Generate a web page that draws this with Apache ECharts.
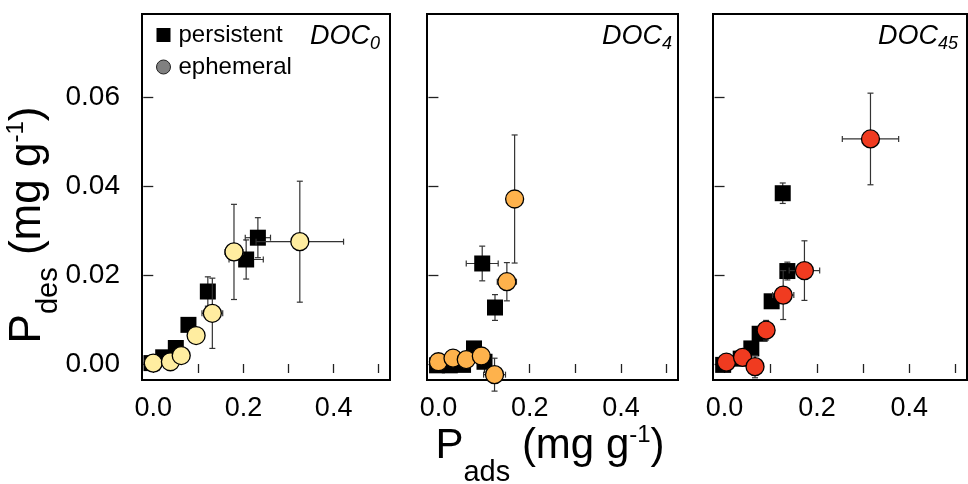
<!DOCTYPE html>
<html>
<head>
<meta charset="utf-8">
<script src="https://cdn.jsdelivr.net/npm/echarts@6/dist/echarts.min.js"></script>
<style>
  html, body { margin: 0; padding: 0; background: #fff; }
  #chart { width: 968px; height: 484px; }
</style>
</head>
<body>
<div id="chart"></div>
<script>
// values: P_ads (x) and P_des (y), mg g-1, with +/- error
// DOC0
const doc0PersX    = [-0.004, 0.022, 0.050, 0.078, 0.121, 0.206, 0.232];
const doc0PersY    = [0.0002, 0.0015, 0.0036, 0.0088, 0.0163, 0.0235, 0.0284];
const doc0PersXErr = [0, 0, 0, 0, 0, 0.038, 0.028];
const doc0PersYErr = [0, 0, 0, 0, 0.0033, 0.0044, 0.0045];
const doc0EphX     = [0.000, 0.038, 0.062, 0.095, 0.131, 0.179, 0.325];
const doc0EphY     = [0.0002, 0.0005, 0.0019, 0.0064, 0.0114, 0.0252, 0.0275];
const doc0EphXErr  = [0, 0, 0, 0, 0.023, 0.020, 0.097];
const doc0EphYErr  = [0, 0, 0, 0, 0.0079, 0.0107, 0.0136];
// DOC4
const doc4PersX    = [-0.003, 0.025, 0.054, 0.078, 0.101, 0.096, 0.124];
const doc4PersY    = [-0.0003, -0.0003, -0.0002, 0.0035, 0.0005, 0.0226, 0.0127];
const doc4PersXErr = [0, 0, 0, 0, 0, 0.035, 0];
const doc4PersYErr = [0, 0, 0, 0.0015, 0, 0.0039, 0.0029];
const doc4EphX     = [0.000, 0.032, 0.061, 0.094, 0.123, 0.150, 0.167];
const doc4EphY     = [0.0005, 0.0013, 0.0010, 0.0018, -0.0024, 0.0185, 0.0371];
const doc4EphXErr  = [0, 0, 0, 0, 0.024, 0.021, 0];
const doc4EphYErr  = [0, 0, 0, 0, 0.0037, 0.0043, 0.0144];
// DOC45
const doc45PersX    = [-0.003, 0.035, 0.058, 0.076, 0.102, 0.136, 0.126];
const doc45PersY    = [-0.0002, 0.0012, 0.0035, 0.0068, 0.0141, 0.0209, 0.0384];
const doc45PersXErr = [0, 0, 0, 0, 0, 0, 0];
const doc45PersYErr = [0, 0, 0, 0, 0, 0.0020, 0.0023];
const doc45EphX     = [0.004, 0.039, 0.066, 0.090, 0.127, 0.173, 0.316];
const doc45EphY     = [0.0004, 0.0015, -0.0006, 0.0076, 0.0155, 0.0210, 0.0506];
const doc45EphXErr  = [0, 0, 0, 0, 0.023, 0.033, 0.061];
const doc45EphYErr  = [0, 0, 0.0025, 0.0022, 0.0055, 0.0067, 0.0103];

const panelSubs   = ['0', '4', '45'];
const ephColors   = ['#ffeda0', '#feb24c', '#f03b20'];
const xTicks      = [0, 0.1, 0.2, 0.3, 0.4, 0.5];
const xTickLabels = [0, 0.2, 0.4];
const yTicks      = [0, 0.02, 0.04, 0.06];

const panels = [
  { pers: [doc0PersX, doc0PersY, doc0PersXErr, doc0PersYErr], eph: [doc0EphX, doc0EphY, doc0EphXErr, doc0EphYErr] },
  { pers: [doc4PersX, doc4PersY, doc4PersXErr, doc4PersYErr], eph: [doc4EphX, doc4EphY, doc4EphXErr, doc4EphYErr] },
  { pers: [doc45PersX, doc45PersY, doc45PersXErr, doc45PersYErr], eph: [doc45EphX, doc45EphY, doc45EphXErr, doc45EphYErr] }
];

const gridBoxes = [
  { left: 142, width: 248 },
  { left: 427, width: 251 },
  { left: 713, width: 254 }
];
const docRight = [380, 672, 958];

const FONT = '"Liberation Sans", Arial, Helvetica, sans-serif';

function rows(cols) {
  return cols[0].map((x, i) => [x, cols[1][i], cols[2][i], cols[3][i]]);
}

function renderErr(params, api) {
  const x = api.value(0), y = api.value(1), ex = api.value(2), ey = api.value(3);
  const c = api.coord([x, y]);
  const style = { stroke: '#333', lineWidth: 1.2 };
  const cap = 3;
  const children = [];
  if (ey > 0) {
    const t = api.coord([x, y + ey])[1];
    const b = api.coord([x, y - ey])[1];
    children.push({ type: 'line', shape: { x1: c[0], y1: t, x2: c[0], y2: b }, style });
    children.push({ type: 'line', shape: { x1: c[0] - cap, y1: t, x2: c[0] + cap, y2: t }, style });
    children.push({ type: 'line', shape: { x1: c[0] - cap, y1: b, x2: c[0] + cap, y2: b }, style });
  }
  if (ex > 0) {
    const l = api.coord([x - ex, y])[0];
    const r = api.coord([x + ex, y])[0];
    children.push({ type: 'line', shape: { x1: l, y1: c[1], x2: r, y2: c[1] }, style });
    children.push({ type: 'line', shape: { x1: l, y1: c[1] - cap, x2: l, y2: c[1] + cap }, style });
    children.push({ type: 'line', shape: { x1: r, y1: c[1] - cap, x2: r, y2: c[1] + cap }, style });
  }
  return { type: 'group', children };
}

const grid = [], xAxis = [], yAxis = [], series = [];

panels.forEach((p, i) => {
  grid.push({
    left: gridBoxes[i].left, width: gridBoxes[i].width, top: 14, height: 366,
    show: true, borderColor: '#000', borderWidth: 2, backgroundColor: 'transparent'
  });
  xAxis.push({
    type: 'value', gridIndex: i, min: -0.025, max: 0.525,
    axisLine: { show: false },
    splitLine: { show: false },
    axisTick: { show: true, inside: false, length: 9, customValues: xTicks, lineStyle: { color: '#222', width: 1.3 } },
    axisLabel: {
      customValues: xTickLabels, margin: 15,
      color: '#000', fontSize: 27, fontFamily: FONT,
      formatter: v => v.toFixed(1)
    }
  });
  yAxis.push({
    type: 'value', gridIndex: i, min: -0.0036, max: 0.0787,
    axisLine: { show: false },
    splitLine: { show: false },
    axisTick: { show: true, inside: false, length: 10, customValues: yTicks, lineStyle: { color: '#222', width: 1.3 } },
    axisLabel: {
      show: i === 0, customValues: yTicks, margin: 22,
      color: '#000', fontSize: 28, fontFamily: FONT,
      formatter: v => v.toFixed(2)
    }
  });

  series.push({
    type: 'custom', name: 'err-p' + i, xAxisIndex: i, yAxisIndex: i,
    renderItem: renderErr, data: rows(p.pers), z: 1, silent: true, clip: false
  });
  series.push({
    type: 'scatter', name: 'persistent', xAxisIndex: i, yAxisIndex: i,
    data: rows(p.pers).map(r => [r[0], r[1]]),
    symbol: 'rect', symbolSize: 16,
    itemStyle: { color: '#000', opacity: 1 },
    z: 2, silent: true, clip: false
  });
  series.push({
    type: 'custom', name: 'err-e' + i, xAxisIndex: i, yAxisIndex: i,
    renderItem: renderErr, data: rows(p.eph), z: 3, silent: true, clip: false
  });
  series.push({
    type: 'scatter', name: 'ephemeral', xAxisIndex: i, yAxisIndex: i,
    data: rows(p.eph).map(r => [r[0], r[1]]),
    symbol: 'circle', symbolSize: 18,
    itemStyle: { color: ephColors[i], borderColor: '#000', borderWidth: 1.3, opacity: 1 },
    z: 4, silent: true, clip: false
  });
});

const graphic = panelSubs.map((s, i) => ({
  type: 'text', x: docRight[i], y: 36,
  style: {
    text: '{a|DOC}{b|' + s + '}',
    align: 'right', verticalAlign: 'middle',
    rich: {
      a: { fontSize: 27, fontStyle: 'italic', fontFamily: FONT, lineHeight: 34, fill: '#000' },
      b: { fontSize: 18, fontStyle: 'italic', fontFamily: FONT, verticalAlign: 'bottom', fill: '#000' }
    }
  }
}));

// x axis title
graphic.push({
  type: 'text', x: 550, y: 446,
  style: {
    text: '{m|P}{s|ads}{m| (mg g}{u|-1}{m|)}',
    align: 'center', verticalAlign: 'middle',
    rich: {
      m: { fontSize: 42, fontFamily: FONT, lineHeight: 82, fill: '#000' },
      s: { fontSize: 29, fontFamily: FONT, verticalAlign: 'bottom', fill: '#000' },
      u: { fontSize: 24, fontFamily: FONT, verticalAlign: 'top', padding: [18, 0, 0, 0], fill: '#000' }
    }
  }
});

// y axis title
graphic.push({
  type: 'text', x: 28, y: 225, rotation: Math.PI / 2,
  style: {
    text: '{m|P}{s|des}{m| (mg g}{u|-1}{m|)}',
    align: 'center', verticalAlign: 'middle',
    rich: {
      m: { fontSize: 44, fontFamily: FONT, lineHeight: 70, fill: '#000' },
      s: { fontSize: 29, fontFamily: FONT, verticalAlign: 'bottom', fill: '#000' },
      u: { fontSize: 24, fontFamily: FONT, verticalAlign: 'top', padding: [11, 0, 0, 0], fill: '#000' }
    }
  }
});

const chart = echarts.init(document.getElementById('chart'));
chart.setOption({
  animation: false,
  backgroundColor: '#fff',
  textStyle: { fontFamily: FONT },
  legend: {
    orient: 'vertical', left: 151, top: 18,
    itemWidth: 14, itemHeight: 14, itemGap: 8,
    selectedMode: false,
    textStyle: { fontSize: 24, color: '#000', fontFamily: FONT, lineHeight: 24, padding: [0, 0, 0, 3] },
    data: [
      { name: 'persistent', icon: 'rect', itemStyle: { color: '#000', borderWidth: 0 } },
      { name: 'ephemeral', icon: 'circle', itemStyle: { color: '#808080', borderColor: '#222', borderWidth: 1 } }
    ]
  },
  grid, xAxis, yAxis, series, graphic
});
</script>
</body>
</html>
